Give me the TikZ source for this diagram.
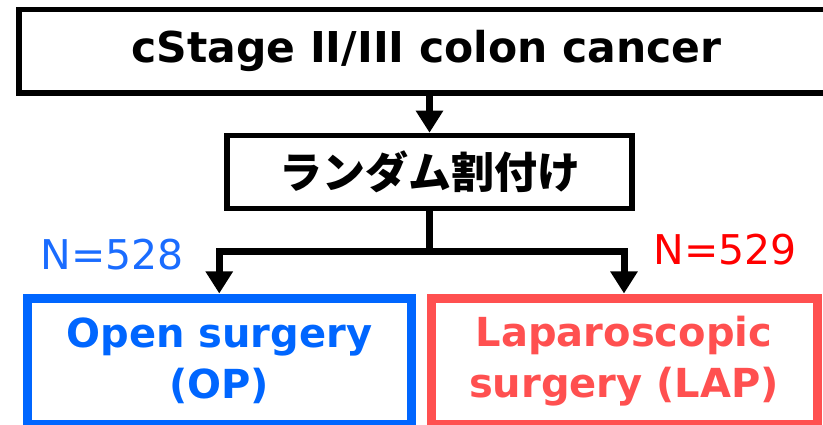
\documentclass[tikz,border=0pt]{standalone}
\usepackage{fontspec}
\setmainfont{DejaVu Sans}
\newfontfamily\dv{DejaVu Sans}
\newfontfamily\jp{Noto Sans CJK JP}
\usetikzlibrary{arrows.meta}
\definecolor{opblue}{HTML}{0066FF}
\definecolor{lapred}{HTML}{FF5050}
\definecolor{nred}{HTML}{FF0000}
\definecolor{nblue}{HTML}{1A6CFF}
\begin{document}
\begin{tikzpicture}[x=1pt,y=-1pt,
  blackbox/.style={draw=black,line width=5.5pt,inner sep=0pt},
  groupbox/.style={line width=9pt,inner sep=0pt,align=center,font=\dv\fontsize{40}{51}\selectfont\bfseries},
  conn/.style={line width=7pt,draw=black},
  tip/.style={-{Triangle[width=26pt,length=22pt]}},
  nlabel/.style={font=\dv\fontsize{41}{48}\selectfont},
]
\useasboundingbox (0,0) rectangle (823,425);
\begin{scope}
\clip (0,0) rectangle (823,425);
\node[blackbox,minimum width=861pt,minimum height=83.5pt] (top) at (449.5,51.25) {};
\end{scope}
\node[font=\dv\fontsize{42.5}{50}\selectfont\bfseries,inner sep=0pt] (title) at (426.5,51.25) {cStage II/III colon cancer};
\node[blackbox,minimum width=405pt,minimum height=73pt,font=\jp\fontsize{43}{50}\selectfont\bfseries] (rand) at (429.5,172) {ランダム割付け};
\node[groupbox,draw=opblue,text=opblue,minimum width=384.5pt,minimum height=126pt] (op) at (219.25,361) {Open surgery\\(OP)};
\node[groupbox,draw=lapred,text=lapred,minimum width=386pt,minimum height=126pt] (lap) at (624,361) {Laparoscopic\\surgery (LAP)};
\node[nlabel,text=nblue] (n1) at (112,255) {N=528};
\node[nlabel,text=nred] (n2) at (725,250) {N=529};
\coordinate (j) at (429.5,252);
\draw[conn,tip] (top.south -| rand.north) -- (rand.north);
\draw[conn] (rand.south) -- (j);
\draw[conn,{Triangle[width=26pt,length=22pt]}-{Triangle[width=26pt,length=22pt]}] (op.north) |- (j) -| (lap.north);
\end{tikzpicture}
\end{document}
